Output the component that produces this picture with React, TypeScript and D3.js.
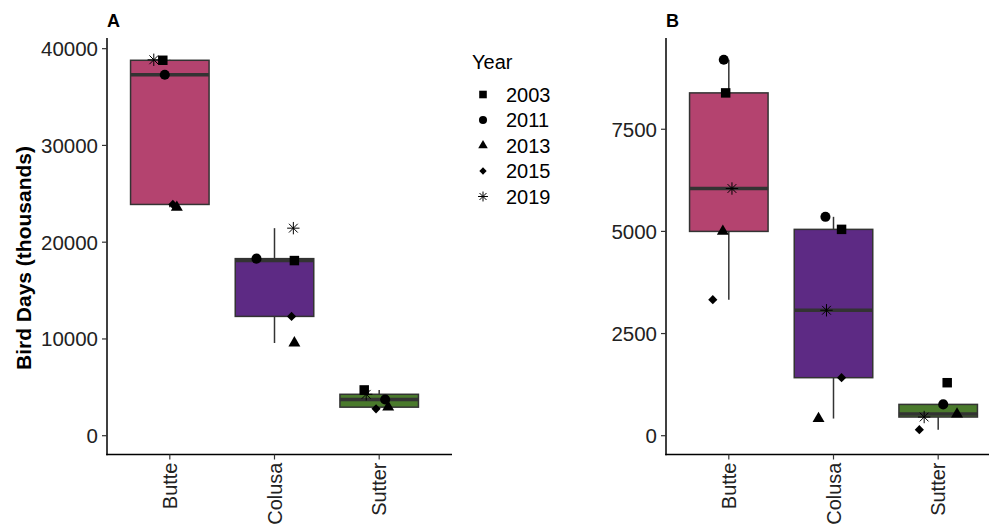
import * as d3 from "d3"

const counties = ["Butte", "Colusa", "Sutter"]
const years = ["2003", "2011", "2013", "2015", "2019"]
const boxColors = ["#B4436F", "#5D2A84", "#4A7A2C"]

// values per county, in year order 2003, 2011, 2013, 2015, 2019
const butteA = [38800, 37300, 23600, 23900, 38850]
const colusaA = [18100, 18300, 9580, 12330, 21450]
const sutterA = [4730, 3740, 2950, 2780, 4280]
const butteB = [8390, 9200, 5000, 3330, 6050]
const colusaB = [5050, 5357, 420, 1420, 3070]
const sutterB = [1297, 766, 530, 147, 457]

// horizontal jitter, in category steps
const jitterA = [
  [-0.067, -0.048, 0.067, 0.029, -0.153],
  [0.19, -0.172, 0.19, 0.163, 0.18],
  [-0.143, 0.057, 0.086, -0.03, -0.124],
]
const jitterB = [
  [-0.03, -0.048, -0.057, -0.153, 0.03],
  [0.077, -0.077, -0.143, 0.077, -0.067],
  [0.086, 0.048, 0.18, -0.18, -0.134],
]

const ticksA = [0, 10000, 20000, 30000, 40000]
const ticksB = [0, 2500, 5000, 7500]

const FONT = "'Liberation Sans', Arial, sans-serif"
const DARK = "#333333"

function asterisk(r: number) {
  const d = r * Math.SQRT1_2
  return `M${-r},0L${r},0M0,${-r}L0,${r}M${-d},${-d}L${d},${d}M${-d},${d}L${d},${-d}`
}

function Marker({ i, x, y, scale = 1 }: { i: number; x: number; y: number; scale?: number }) {
  const t = `translate(${x},${y})`
  if (i === 4)
    return <path d={asterisk(6.2 * scale)} transform={t} stroke="#000" strokeWidth={1} fill="none" />
  const sym = [d3.symbolSquare, d3.symbolCircle, d3.symbolTriangle, d3.symbolSquare][i]
  const size = [90, 80, 62, 42][i] * scale * scale
  const path = d3.symbol(sym, size)() || ""
  return (
    <path
      d={path}
      transform={i === 3 ? `${t} rotate(45)` : t}
      fill="#000"
    />
  )
}

function Panel({
  data,
  jitter,
  ticks,
  x0,
  label,
}: {
  data: number[][]
  jitter: number[][]
  ticks: number[]
  x0: number
  label: string
}) {
  const top = 41
  const bottom = 454.5
  const x1 = x0 + 335
  const maxV = d3.max(data.flat()) || 1
  const y = d3.scaleLinear().domain([-0.05 * maxV, maxV * 1.05]).range([bottom, top])
  const x = d3.scalePoint<string>().domain(counties).range([x0, x1]).padding(0.6)
  const step = x.step()
  const bw = step * 0.75

  const stats = data.map((vals) => {
    const s = [...vals].sort(d3.ascending)
    const q1 = d3.quantile(s, 0.25)!
    const med = d3.quantile(s, 0.5)!
    const q3 = d3.quantile(s, 0.75)!
    const iqr = q3 - q1
    const lo = d3.min(s.filter((v) => v >= q1 - 1.5 * iqr))!
    const hi = d3.max(s.filter((v) => v <= q3 + 1.5 * iqr))!
    return { q1, med, q3, lo, hi }
  })

  return (
    <g>
      <text x={x0} y={27} fontFamily={FONT} fontWeight="bold" fontSize={18}>
        {label}
      </text>
      {/* boxes */}
      {stats.map((s, ci) => {
        const cx = x(counties[ci])!
        return (
          <g key={ci}>
            <line x1={cx} x2={cx} y1={y(s.q3)} y2={y(s.hi)} stroke={DARK} strokeWidth={1.5} />
            <line x1={cx} x2={cx} y1={y(s.q1)} y2={y(s.lo)} stroke={DARK} strokeWidth={1.5} />
            <rect
              x={cx - bw / 2}
              y={y(s.q3)}
              width={bw}
              height={y(s.q1) - y(s.q3)}
              fill={boxColors[ci]}
              stroke={DARK}
              strokeWidth={1.5}
            />
            <line
              x1={cx - bw / 2}
              x2={cx + bw / 2}
              y1={y(s.med)}
              y2={y(s.med)}
              stroke={DARK}
              strokeWidth={3.5}
            />
          </g>
        )
      })}
      {/* points */}
      {data.map((vals, ci) =>
        vals.map((v, yi) => (
          <Marker
            key={`${ci}-${yi}`}
            i={yi}
            x={x(counties[ci])! + jitter[ci][yi] * step}
            y={y(v)}
          />
        ))
      )}
      {/* axes */}
      <line x1={x0} x2={x0} y1={top - 3} y2={bottom + 0.75} stroke="#000" strokeWidth={1.5} />
      <line x1={x0 - 0.75} x2={x1 + 10} y1={bottom} y2={bottom} stroke="#000" strokeWidth={1.5} />
      {ticks.map((t) => (
        <g key={t}>
          <line x1={x0 - 5} x2={x0} y1={y(t)} y2={y(t)} stroke={DARK} strokeWidth={1.2} />
          <text
            x={x0 - 9}
            y={y(t)}
            dy="0.36em"
            textAnchor="end"
            fontFamily={FONT}
            fontSize={20.5}
            fill="#222"
          >
            {t}
          </text>
        </g>
      ))}
      {counties.map((c) => (
        <g key={c}>
          <line x1={x(c)} x2={x(c)} y1={bottom} y2={bottom + 5} stroke={DARK} strokeWidth={1.2} />
          <text
            transform={`translate(${x(c)},${bottom + 8}) rotate(-90)`}
            dy="0.36em"
            textAnchor="end"
            fontFamily={FONT}
            fontSize={20}
            fill="#222"
          >
            {c}
          </text>
        </g>
      ))}
    </g>
  )
}

export default function App() {
  const legendY = d3.scalePoint<string>().domain(years).range([94.5, 196.5])
  return (
    <div style={{ position: "absolute", left: 0, top: 0 }}>
      <svg width={989} height={532} style={{ display: "block", background: "#fff" }}>
        <Panel data={[butteA, colusaA, sutterA]} jitter={jitterA} ticks={ticksA} x0={107} label="A" />
        <Panel data={[butteB, colusaB, sutterB]} jitter={jitterB} ticks={ticksB} x0={666} label="B" />
        <text
          transform="translate(23,258) rotate(-90)"
          dy="0.36em"
          textAnchor="middle"
          fontFamily={FONT}
          fontWeight="bold"
          fontSize={21}
        >
          Bird Days (thousands)
        </text>
        <text x={472} y={69} fontFamily={FONT} fontSize={20} fill="#000">
          Year
        </text>
        {years.map((yr, i) => (
          <g key={yr}>
            <Marker i={i} x={483} y={legendY(yr)!} scale={0.8} />
            <text x={506} y={legendY(yr)!} dy="0.36em" fontFamily={FONT} fontSize={20} fill="#000">
              {yr}
            </text>
          </g>
        ))}
      </svg>
    </div>
  )
}
